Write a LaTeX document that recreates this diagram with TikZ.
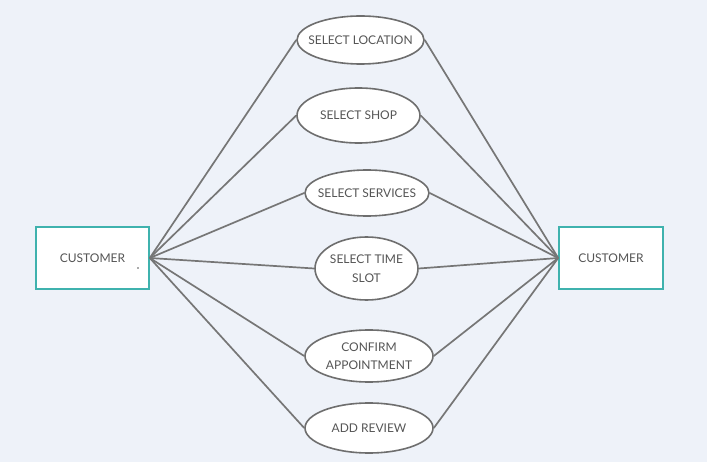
\documentclass[tikz,border=0pt]{standalone}
\usepackage{fontspec}
\setmainfont{Lato}
\usetikzlibrary{shapes.geometric}

\definecolor{bgcol}{HTML}{EEF2F9}
\definecolor{tealcol}{HTML}{3FB2AE}
\definecolor{ellcol}{HTML}{6E6E6E}
\definecolor{linecol}{HTML}{767676}
\definecolor{textcol}{HTML}{555555}

\tikzset{
  actorbox/.style={draw=tealcol, line width=1.6pt, fill=white, text=textcol,
    minimum height=62pt, font=\fontsize{12}{14}\selectfont},
  usecase/.style={ellipse, draw=ellcol, line width=1.6pt, fill=white, inner sep=0pt},
  uclabel/.style={text=textcol, align=center, inner sep=0pt,
    font=\fontsize{12}{18.5}\selectfont},
  link/.style={draw=linecol, line width=1.7pt}
}

\begin{document}
\begin{tikzpicture}[x=1pt,y=-1pt]
\fill[bgcol] (0,0) rectangle (707,462);
\useasboundingbox (0,0) rectangle (707,462);

% actors
\node[actorbox, minimum width=113pt] (custL) at (92.5,258) {CUSTOMER};
\node[actorbox, minimum width=104pt] (custR) at (611,258) {CUSTOMER};
\fill[textcol] (138,268) circle (0.8pt);

% use cases
\node[usecase, minimum width=127pt, minimum height=48pt,
  label={[uclabel]center:SELECT LOCATION}] (loc) at (360.5,40) {};
\node[usecase, minimum width=123pt, minimum height=55pt,
  label={[uclabel]center:SELECT SHOP}] (shop) at (358.5,115.5) {};
\node[usecase, minimum width=124pt, minimum height=46pt,
  label={[uclabel]center:SELECT SERVICES}] (serv) at (367,193) {};
\node[usecase, minimum width=103pt, minimum height=63pt,
  label={[uclabel]center:{SELECT TIME\\SLOT}}] (slot) at (366.5,268.5) {};
\node[usecase, minimum width=128pt, minimum height=52pt,
  label={[uclabel]center:{CONFIRM\\APPOINTMENT}}] (conf) at (369,356) {};
\node[usecase, minimum width=128pt, minimum height=50pt,
  label={[uclabel]center:ADD REVIEW}] (rev) at (369,428) {};

% connectors
\foreach \uc in {loc,shop,serv,slot,conf,rev}{
  \draw[link] (custL.east) -- (\uc.west);
  \draw[link] (\uc.east) -- (custR.west);
}
\end{tikzpicture}
\end{document}
